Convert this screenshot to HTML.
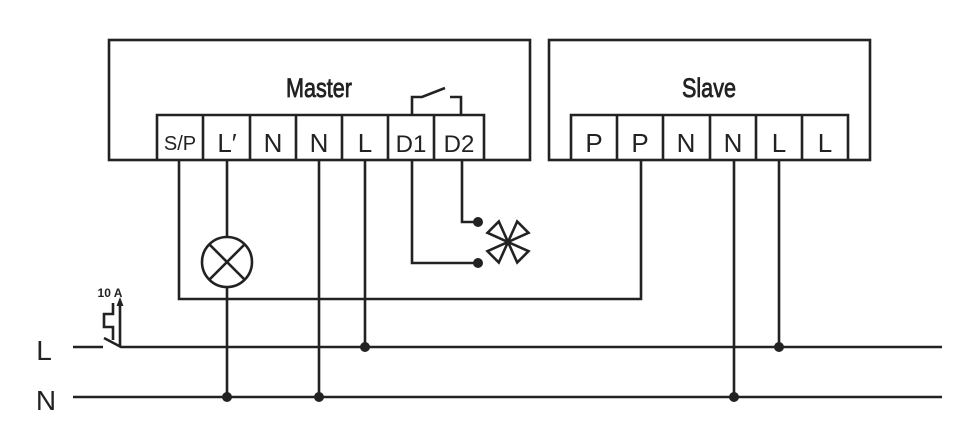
<!DOCTYPE html>
<html><head><style>body{margin:0;background:#fff}svg{display:block}</style></head><body>
<svg width="970" height="442" viewBox="0 0 970 442" xmlns="http://www.w3.org/2000/svg">
<g fill="none" stroke="#222" stroke-width="2.6">
<rect x="109" y="40" width="421" height="120"/>
<rect x="549" y="40" width="321" height="120"/>
<path d="M157 160V115H484V160 M203 115V160 M250 115V160 M296 115V160 M342 115V160 M388 115V160 M434 115V160"/>
<path d="M571 160V115H848V160 M617 115V160 M663 115V160 M710 115V160 M756 115V160 M802 115V160"/>
<path d="M412 115V97H422L445 88 M450 97H461V115"/>
<path d="M179 160V299H641V160"/>
<path d="M227 160V237 M227 287V397"/>
<circle cx="227" cy="262" r="25"/>
<path d="M209 244L245 280 M245 244L209 280"/>
<path d="M319 160V397 M365 160V347 M412 160V263H478 M462 160V222H478"/>
<path d="M734 160V397 M779 160V347"/>
<path d="M73 347H103 M104 338L121 347H942 M73 397H942"/>
<path d="M113 303V314H104V327H113V340"/>
<path d="M120 347V304"/>
</g>
<path d="M116.5 306L120 297L123.5 306Z" fill="#222"/>
<g fill="#222">
<circle cx="478" cy="222" r="5"/><circle cx="478" cy="263" r="5"/>
<circle cx="365" cy="347" r="5"/><circle cx="779" cy="347" r="5"/>
<circle cx="227" cy="397" r="5"/><circle cx="319" cy="397" r="5"/><circle cx="734" cy="397" r="5"/>
</g>
<g fill="none" stroke="#222" stroke-width="2.6" transform="translate(508,242)">
<path d="M0 0L-8 -21L8 -21Z M0 0L8 21L-8 21Z M0 0L-21 -8L-21 8Z M0 0L21 -8L21 8Z" transform="rotate(45)"/>
</g>
<g font-family="'Liberation Sans',sans-serif" fill="#222" text-anchor="middle">
<text x="319" y="97" font-size="27" stroke="#222" stroke-width="0.8" transform="scale(0.8 1)" style="transform-origin:319px 97px">Master</text>
<text x="709" y="97" font-size="27" stroke="#222" stroke-width="0.8" style="transform-origin:709px 97px" transform="scale(0.8 1)">Slave</text>
<text x="180" y="150" font-size="20">S/P</text>
<text x="227" y="152" font-size="26">L′</text>
<text x="273" y="152" font-size="26">N</text>
<text x="319" y="152" font-size="26">N</text>
<text x="365" y="152" font-size="26">L</text>
<text x="411" y="152" font-size="24">D1</text>
<text x="459" y="152" font-size="24">D2</text>
<text x="594" y="152" font-size="26">P</text>
<text x="640" y="152" font-size="26">P</text>
<text x="686" y="152" font-size="26">N</text>
<text x="733" y="152" font-size="26">N</text>
<text x="779" y="152" font-size="26">L</text>
<text x="825" y="152" font-size="26">L</text>
<text x="110" y="297" font-size="12" font-weight="bold">10 A</text>
<text x="44" y="360" font-size="28">L</text>
<text x="46" y="410" font-size="28">N</text>
</g>
</svg>
</body></html>
